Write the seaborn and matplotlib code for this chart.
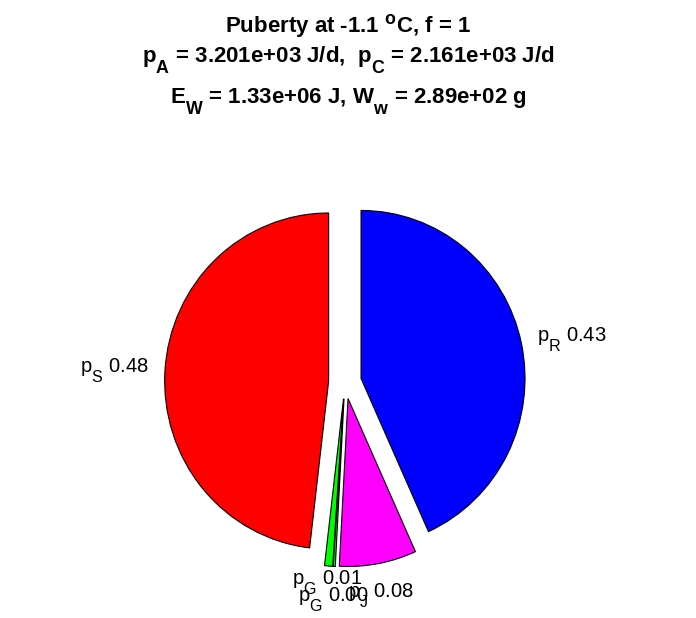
import numpy as np
import matplotlib
matplotlib.use("Agg")
import matplotlib.pyplot as plt
import matplotlib._mathtext as mt
import seaborn as sns

# data (fractions of p_A)
fluxes = ['S', 'G', 'G', 'J', 'R']
fracs = [0.482, 0.008, 0.002, 0.076, 0.433]
colors = ['#ff0000', '#00ff00', '#00ff00', '#ff00ff', '#0000ff']

title_lines = [
    r'Puberty at -1.1 $^\mathbf{o}$C, f = 1',
    r'p$_\mathbf{A}$ = 3.201e+03 J/d,  p$_\mathbf{C}$ = 2.161e+03 J/d',
    r'E$_\mathbf{W}$ = 1.33e+06 J, W$_\mathbf{w}$ = 2.89e+02 g',
]
title_base = [33, 63, 104]   # baselines, px from top

sns.set_style('white')
plt.rcParams['font.family'] = ['Liberation Sans', 'DejaVu Sans']
plt.rcParams['text.color'] = 'black'
plt.rcParams['mathtext.fontset'] = 'custom'
plt.rcParams['mathtext.rm'] = 'Liberation Sans'
plt.rcParams['mathtext.it'] = 'Liberation Sans'
plt.rcParams['mathtext.bf'] = 'Liberation Sans:bold'

# matlab tex subscripts are bigger and sit lower than mathtext's
try:
    mt.SHRINK_FACTOR = 0.8
    mt.FontConstantsBase.sub1 = 0.95
except Exception:
    pass

lab_size = 14.5

fig = plt.figure(figsize=(6.96, 6.18), dpi=100)
ax = fig.add_axes([0.1894, 0.0285, 0.6126, 0.7068])

labels = [r'p$_{\mathregular{%s}}$ %.2f' % (f, v) for f, v in zip(fluxes, fracs)]
wedges, texts = ax.pie(fracs, labels=labels, colors=colors, explode=[0.1] * len(fracs),
                       startangle=90, counterclock=True, labeldistance=1.1,
                       wedgeprops=dict(edgecolor='black', linewidth=0.8),
                       textprops=dict(fontsize=lab_size, color='black'))

# labels below the pie are centred on their wedge
for w, t in zip(wedges, texts):
    ang = np.deg2rad((w.theta1 + w.theta2) / 2)
    if abs(np.cos(ang)) < 0.5:
        t.set_ha('center')

ax.set_xlim(-1.3, 1.3)
ax.set_ylim(-1.3, 1.3)
ax.set_aspect('auto')
ax.axis('off')

# crude push-down (one line) of a label that hits an earlier one
fig.canvas.draw()
r = fig.canvas.get_renderer()
step = 0.8 * lab_size * fig.dpi / 72
placed = []
for t in texts:
    bb = t.get_window_extent(r)
    if any(bb.overlaps(pb) for pb in placed):
        xd, yd = ax.transData.transform(t.get_position())
        t.set_position(ax.transData.inverted().transform((xd, yd - step)))
        bb = t.get_window_extent(r)
    placed.append(bb)

for line, yb in zip(title_lines, title_base):
    fig.text(0.5, 1 - yb / 618, line, ha='center', va='baseline',
             fontsize=16, fontweight='bold', color='black')

fig.savefig('out.png', dpi=100)
